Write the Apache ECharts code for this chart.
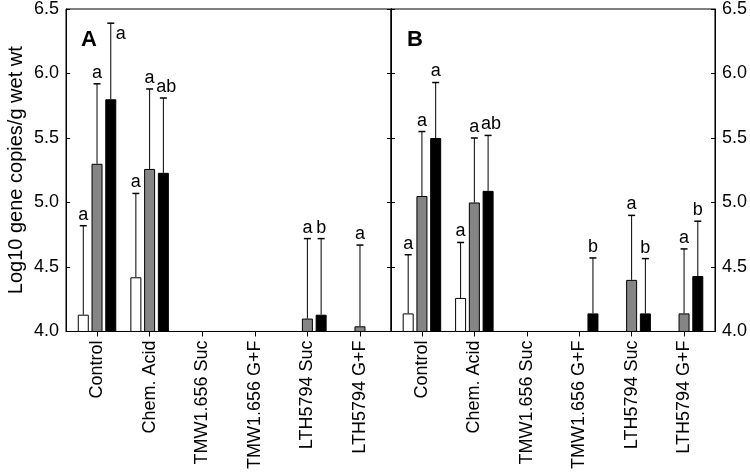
<!DOCTYPE html>
<html>
<head>
<meta charset="utf-8">
<script src="https://cdn.jsdelivr.net/npm/echarts@6/dist/echarts.min.js"></script>
<style>
	html, body { margin: 0; padding: 0; background: #fff; }
	#chart { width: 750px; height: 472px; }
</style>
</head>
<body>
<div id="chart"></div>
<script>
	'use strict';

	var categories = [ "Control", "Chem. Acid", "TMW1.656 Suc", "TMW1.656 G+F", "LTH5794 Suc", "LTH5794 G+F" ];
	var yTicks = [ 4.0, 4.5, 5.0, 5.5, 6.0, 6.5 ];

	// panel A (means, upper error, letters) - null = not detected
	var aWhite = [ 4.13, 4.42, null, null, null, null ];
	var aWhiteErr = [ 0.69, 0.65, null, null, null, null ];
	var aWhiteSig = [ "a", "a", null, null, null, null ];
	var aGrey = [ 5.30, 5.26, null, null, 4.10, 4.04 ];
	var aGreyErr = [ 0.62, 0.62, null, null, 0.62, 0.63 ];
	var aGreySig = [ "a", "a", null, null, "a", "a" ];
	var aBlack = [ 5.80, 5.23, null, null, 4.13, null ];
	var aBlackErr = [ 0.59, 0.58, null, null, 0.59, null ];
	var aBlackSig = [ "a", "ab", null, null, "b", null ];

	// panel B
	var bWhite = [ 4.14, 4.26, null, null, null, null ];
	var bWhiteErr = [ 0.455, 0.43, null, null, null, null ];
	var bWhiteSig = [ "a", "a", null, null, null, null ];
	var bGrey = [ 5.05, 5.00, null, null, 4.40, 4.14 ];
	var bGreyErr = [ 0.50, 0.50, null, null, 0.50, 0.50 ];
	var bGreySig = [ "a", "a", null, null, "a", "a" ];
	var bBlack = [ 5.50, 5.09, null, 4.14, 4.14, 4.43 ];
	var bBlackErr = [ 0.43, 0.43, null, 0.43, 0.425, 0.425 ];
	var bBlackSig = [ "a", "ab", null, "b", "b", "b" ];

	var FONT = "Liberation Sans, Arial, sans-serif";
	var BAR_W = 11;
	var BAR_GAP = 0.25;
	var STRIDE = BAR_W * (1 + BAR_GAP);
	var GRID_TOP = 8;

	var toPairs = function(values) {
		var out = [];
		for (var i = 0; i < values.length; i++) {
			if (values[i] != null) {
				out.push([ i + 1, values[i] ]);
			}
		}
		return out;
	};

	var toErr = function(values, errs) {
		var out = [];
		for (var i = 0; i < values.length; i++) {
			if (values[i] != null) {
				out.push([ i + 1, values[i], errs[i] ]);
			}
		}
		return out;
	};

	var barSeries = function(values, color, xi, yi) {
		return {
			type : "bar",
			xAxisIndex : xi,
			yAxisIndex : yi,
			barWidth : BAR_W,
			barGap : (BAR_GAP * 100) + "%",
			data : toPairs(values),
			itemStyle : { color : color, borderColor : "#000", borderWidth : 1 },
			silent : true,
			z : 2
		};
	};

	var errSeries = function(values, errs, sig, slot, xi, yi) {
		return {
			type : "custom",
			xAxisIndex : xi,
			yAxisIndex : yi,
			data : toErr(values, errs),
			silent : true,
			z : 3,
			renderItem : function(params, api) {
				var x = api.value(0), m = api.value(1), e = api.value(2);
				var base = api.coord([ x, m ]);
				var top = api.coord([ x, m + e ]);
				var px = base[0] + slot * STRIDE;
				var letter = sig[x - 1];
				var children = [ {
					type : "line",
					shape : { x1 : px, y1 : base[1], x2 : px, y2 : top[1] },
					style : { stroke : "#000", lineWidth : 1 }
				}, {
					type : "line",
					shape : { x1 : px - 3.5, y1 : top[1], x2 : px + 3.5, y2 : top[1] },
					style : { stroke : "#000", lineWidth : 1.5 }
				} ];
				if (letter) {
					var nearTop = top[1] - 20 < GRID_TOP;
					children.push({
						type : "text",
						style : {
							text : letter,
							x : nearTop ? px + 5 : px + (letter.length > 1 ? 3 : 0),
							y : nearTop ? top[1] + 2 : top[1] - 2,
							align : nearTop ? "left" : "center",
							verticalAlign : nearTop ? "top" : "bottom",
							font : "18px " + FONT,
							fill : "#000"
						}
					});
				}
				return { type : "group", children : children };
			}
		};
	};

	var xAxis = function(gi) {
		return {
			type : "value",
			gridIndex : gi,
			min : 0.41,
			max : 6.59,
			splitLine : { show : false },
			axisLine : { show : true, lineStyle : { color : "#000", width : 1 } },
			axisTick : { show : true, length : 5, inside : false, customValues : [ 1, 2, 3, 4, 5, 6 ], lineStyle : { color : "#000" } },
			axisLabel : {
				customValues : [ 1, 2, 3, 4, 5, 6 ],
				rotate : 90,
				margin : 9,
				color : "#000",
				fontSize : 18,
				fontFamily : FONT,
				formatter : function(v) { return categories[Math.round(v) - 1]; }
			}
		};
	};

	var yAxis = function(gi, pos, labels, name) {
		return {
			type : "value",
			gridIndex : gi,
			position : pos,
			min : yTicks[0],
			max : yTicks[yTicks.length - 1],
			interval : 0.5,
			name : name || "",
			nameLocation : "middle",
			nameGap : 40,
			nameRotate : 90,
			nameTextStyle : { color : "#000", fontSize : 20, fontFamily : FONT },
			splitLine : { show : false },
			axisLine : { show : true, lineStyle : { color : "#000", width : 1 } },
			axisTick : { show : true, inside : true, length : 4, lineStyle : { color : "#000" } },
			axisLabel : {
				show : labels,
				color : "#000",
				fontSize : 18,
				fontFamily : FONT,
				margin : 7,
				formatter : function(v) { return v.toFixed(1); }
			}
		};
	};

	var chart = echarts.init(document.getElementById("chart"), null, { renderer : "canvas" });

	chart.setOption({
		animation : false,
		backgroundColor : "#fff",
		title : [
			{ text : "A", left : 76, top : 24, textStyle : { fontSize : 22, fontWeight : "bold", fontFamily : FONT, color : "#000" } },
			{ text : "B", left : 402, top : 24, textStyle : { fontSize : 22, fontWeight : "bold", fontFamily : FONT, color : "#000" } }
		],
		grid : [
			{ left : 66, right : 359, top : GRID_TOP, bottom : 139, show : true, borderColor : "#000", borderWidth : 1, backgroundColor : "transparent" },
			{ left : 391, right : 34, top : GRID_TOP, bottom : 139, show : true, borderColor : "#000", borderWidth : 1, backgroundColor : "transparent" }
		],
		xAxis : [ xAxis(0), xAxis(1) ],
		yAxis : [
			yAxis(0, "left", true, "Log10 gene copies/g wet wt"),
			yAxis(0, "right", false),
			yAxis(1, "left", false),
			yAxis(1, "right", true)
		],
		series : [
			barSeries(aWhite, "#ffffff", 0, 0),
			barSeries(aGrey, "#858585", 0, 0),
			barSeries(aBlack, "#000000", 0, 0),
			errSeries(aWhite, aWhiteErr, aWhiteSig, -1, 0, 0),
			errSeries(aGrey, aGreyErr, aGreySig, 0, 0, 0),
			errSeries(aBlack, aBlackErr, aBlackSig, 1, 0, 0),
			barSeries(bWhite, "#ffffff", 1, 2),
			barSeries(bGrey, "#858585", 1, 2),
			barSeries(bBlack, "#000000", 1, 2),
			errSeries(bWhite, bWhiteErr, bWhiteSig, -1, 1, 2),
			errSeries(bGrey, bGreyErr, bGreySig, 0, 1, 2),
			errSeries(bBlack, bBlackErr, bBlackSig, 1, 1, 2)
		]
	});
</script>
</body>
</html>
